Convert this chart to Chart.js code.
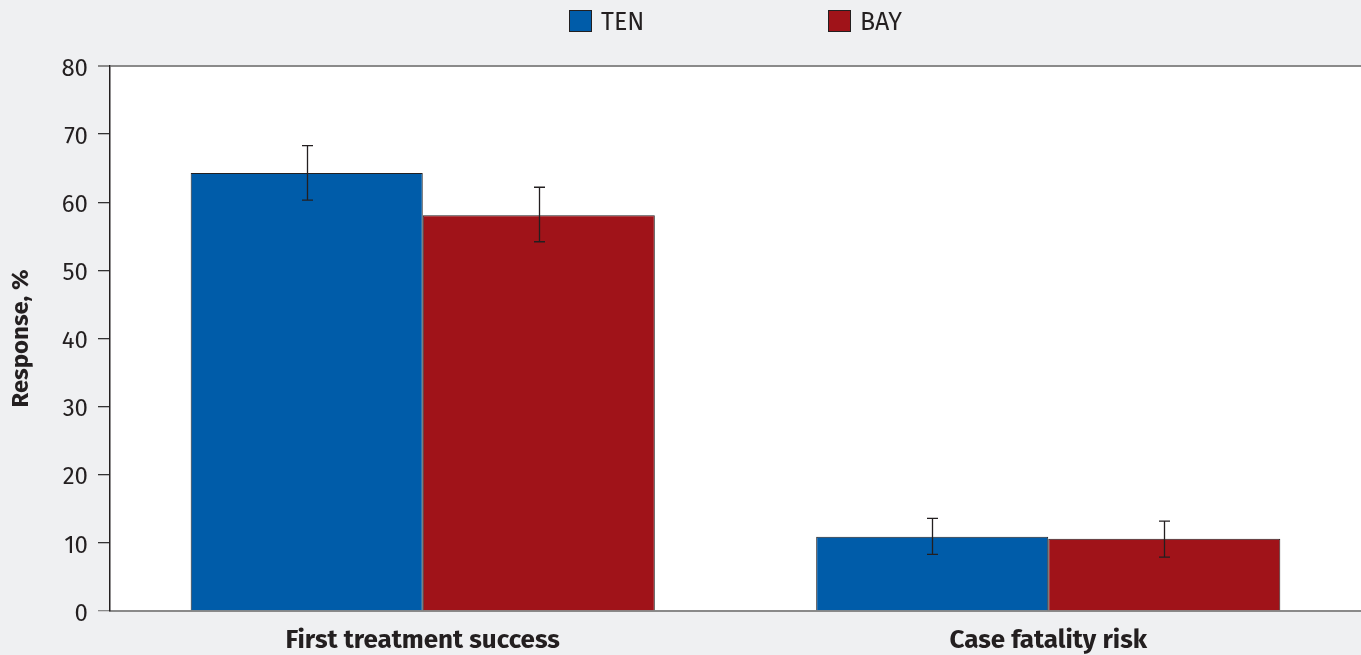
<!DOCTYPE html>
<html lang="en">

<head>
  <meta charset="UTF-8" />
  <title>Response by treatment</title>
  <script src="https://cdn.jsdelivr.net/npm/chart.js@4.4.1/dist/chart.umd.min.js"></script>
  <style>
    html, body { margin: 0; padding: 0; background: #eff0f2; }
    .chart-wrapper { width: 1361px; height: 655px; }
  </style>
</head>

<body>
  <div class="chart-wrapper">
    <canvas id="response-graph"></canvas>
  </div>

<script>
  // data
  const categories = ['First treatment success', 'Case fatality risk'];
  const tenValues = [64.3, 10.9];
  const tenLow = [60.3, 8.3];
  const tenHigh = [68.3, 13.6];
  const bayValues = [58.1, 10.6];
  const bayLow = [54.2, 7.9];
  const bayHigh = [62.2, 13.2];
  const yTicks = [0, 10, 20, 30, 40, 50, 60, 70, 80];

  const FONT = '"Fira Sans", "Noto Sans", sans-serif';
  Chart.defaults.font.family = FONT;
  Chart.defaults.color = '#231f20';

  const errors = [
    { low: tenLow, high: tenHigh },
    { low: bayLow, high: bayHigh }
  ];

  // white plot area + error bars + legend
  const chartExtras = {
    id: 'chartExtras',
    beforeDraw(chart) {
      const { ctx, chartArea: a } = chart;
      ctx.save();
      ctx.fillStyle = '#ffffff';
      ctx.fillRect(a.left, a.top, a.right - a.left, a.bottom - a.top);
      ctx.restore();
    },
    afterDatasetsDraw(chart) {
      const { ctx } = chart;
      const y = chart.scales.y;
      ctx.save();
      ctx.strokeStyle = '#231f20';
      ctx.lineWidth = 1.3;
      errors.forEach((e, d) => {
        chart.getDatasetMeta(d).data.forEach((bar, i) => {
          const x = Math.round(bar.x) + 0.5;
          const yl = y.getPixelForValue(e.low[i]);
          const yh = y.getPixelForValue(e.high[i]);
          ctx.beginPath();
          ctx.moveTo(x, yl); ctx.lineTo(x, yh);
          ctx.moveTo(x - 5.5, yl); ctx.lineTo(x + 5.5, yl);
          ctx.moveTo(x - 5.5, yh); ctx.lineTo(x + 5.5, yh);
          ctx.stroke();
        });
      });
      ctx.restore();
    },
    afterDraw(chart) {
      const { ctx } = chart;
      const boxX = [569, 828];
      ctx.save();
      ctx.font = '25px ' + FONT;
      ctx.textBaseline = 'middle';
      chart.data.datasets.forEach((ds, i) => {
        ctx.fillStyle = ds.backgroundColor;
        ctx.fillRect(boxX[i], 10, 23, 22);
        ctx.strokeStyle = '#231f20';
        ctx.lineWidth = 1;
        ctx.strokeRect(boxX[i] + 0.5, 10.5, 22, 21);
        ctx.fillStyle = '#231f20';
        ctx.fillText(ds.label, boxX[i] + 32, 23);
      });
      ctx.restore();
    }
  };

  const myChart = new Chart(
    document.getElementById('response-graph').getContext('2d'), {
      type: 'bar',
      data: {
        labels: categories,
        datasets: [{
            label: 'TEN',
            data: tenValues,
            backgroundColor: '#005ca9',
            borderColor: '#231f20',
            borderWidth: 1
          },
          {
            label: 'BAY',
            data: bayValues,
            backgroundColor: '#a01319',
            borderColor: '#231f20',
            borderWidth: 1
          }
        ]
      },
      options: {
        responsive: true,
        maintainAspectRatio: false,
        animation: false,
        categoryPercentage: 0.742,
        barPercentage: 1,
        layout: {
          padding: { top: 66, right: 0, left: 0, bottom: 0 }
        },
        plugins: {
          legend: { display: false },
          tooltip: { enabled: false }
        },
        scales: {
          x: {
            grid: { display: false },
            border: { color: '#8a8a8a', width: 2 },
            ticks: {
              padding: 6,
              font: { size: 26, weight: 'bold' },
              color: '#231f20'
            },
            afterFit(scale) { scale.height = 44; }
          },
          y: {
            min: 0,
            max: 80,
            afterBuildTicks(scale) {
              scale.ticks = yTicks.map(v => ({ value: v }));
            },
            grid: {
              drawOnChartArea: true,
              tickLength: 12,
              color: c => c.tick && c.tick.value === 80 ? '#8a8a8a' : 'rgba(0,0,0,0)',
              tickColor: c => c.tick && (c.tick.value === 80 || c.tick.value === 0) ? '#8a8a8a' : '#333333',
              lineWidth: c => c.tick && c.tick.value === 80 ? 2 : 1.3
            },
            border: { color: '#231f20', width: 1.5 },
            ticks: {
              padding: 10,
              labelOffset: 3,
              font: { size: 24 },
              color: '#231f20'
            },
            title: {
              display: true,
              text: 'Response, %',
              font: { size: 24, weight: 'bold' },
              color: '#231f20',
              padding: { top: 7, bottom: 0 }
            },
            afterFit(scale) { scale.width = 110; }
          }
        }
      },
      plugins: [chartExtras]
    });
</script>
</body>

</html>
